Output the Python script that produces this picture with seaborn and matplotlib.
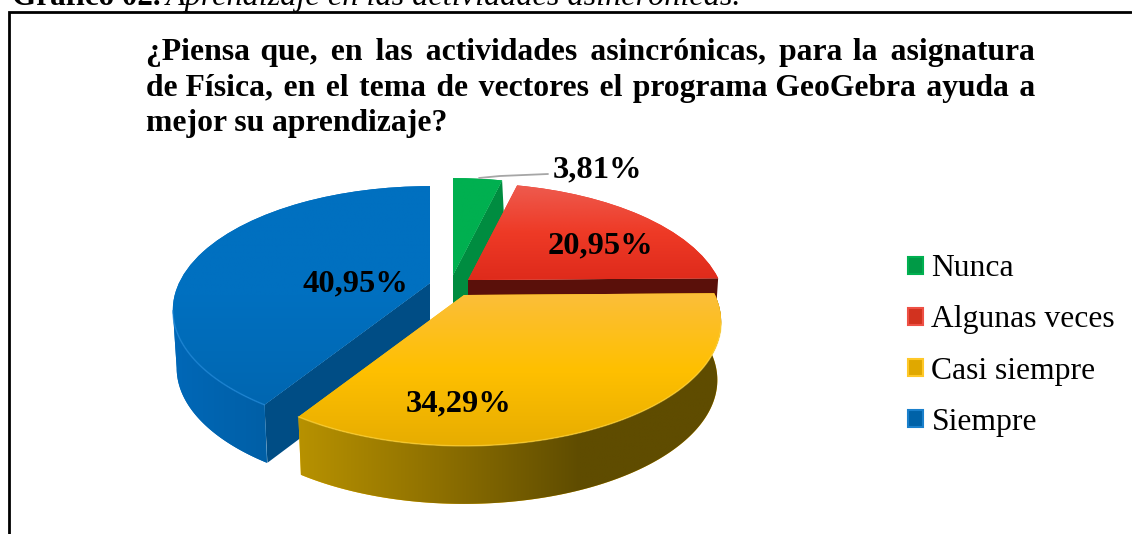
import numpy as np
import matplotlib
matplotlib.use("Agg")
import matplotlib.pyplot as plt
from matplotlib.colors import LinearSegmentedColormap
from matplotlib.patches import Patch, Polygon
from matplotlib.transforms import Transform
import seaborn as sns

# ---- data ----
categories = ["Nunca", "Algunas veces", "Casi siempre", "Siempre"]
percentages = [3.81, 20.95, 34.29, 40.95]
title_lines = ["¿Piensa que, en las actividades asincrónicas, para la asignatura",
               "de Física, en el tema de vectores el programa GeoGebra ayuda a",
               "mejor su aprendizaje?"]
header_bold = "Gráfico 02."
header_italic = "Aprendizaje en las actividades asincrónicas."

# ---- style ----
SERIF = "Liberation Serif"
sns.set_theme(style="white")
plt.rcParams["font.family"] = [SERIF, "DejaVu Sans"]
base = sns.color_palette(["#00B050", "#EE3524", "#FFC000", "#0070C0"])
W, H = 1132, 534
A, B, K, DEPTH = 251.0, 118.0, 0.218, 58.0
apexes = [(453, 275), (468, 280), (464, 295), (430, 283)]
top_grad = [["#00B050", "#00B050"],
            ["#EE5C50", "#EE3A26", "#DE2A1B"],
            ["#FBBE3C", "#FFC000", "#E6AC00"],
            ["#0070C0", "#0070C0", "#0066B0"]]
rim_grad = [None, None, ["#B89200", "#8E7000", "#5F4C00", "#5F4C00"], ["#0068B8", "#005FA6"]]
face_col = ["#008C40", "#5A100A", None, "#004D85"]
face_drop = [DEPTH, 30.0, 0.0, DEPTH]
face_shift = [3.0, -2.0, 0.0, 3.0]
bevel_col = [None, None, "#FFD84A", "#2A90E0"]
legend_face = ["#009A46", "#D2321F", "#E0A800", "#0062A8"]
legend_edge = ["#00B050", "#EE5045", "#FFC828", "#1A80CC"]


class Persp(Transform):
    """Projects the unit-circle pie plane into the tilted view around an apex."""
    input_dims = output_dims = 2
    is_separable = False
    has_inverse = False

    def __init__(self, apex):
        super().__init__()
        self.apex = apex

    def transform_non_affine(self, xy):
        xy = np.asarray(xy, float)
        w = 1 + K * xy[:, 1]
        return np.column_stack([self.apex[0] + A * xy[:, 0] / w,
                                self.apex[1] - B * xy[:, 1] / w])


def rim_xy(apex, deg):
    t = np.radians(deg)
    return Persp(apex).transform_non_affine(np.column_stack([np.cos(t), np.sin(t)]))


fig = plt.figure(figsize=(W / 100, H / 100), dpi=100, facecolor="white")
ax = fig.add_axes([0, 0, 1, 1])
wedges, _ = ax.pie(percentages, colors=base, startangle=90, counterclock=False, radius=1)
ax.set_aspect("auto")


def gradient(cols, extent, clip, z, horizontal=False):
    cm = LinearSegmentedColormap.from_list("g", cols)
    arr = np.linspace(0, 1, 256).reshape(1, -1) if horizontal else np.linspace(0, 1, 256).reshape(-1, 1)
    im = ax.imshow(arr, cmap=cm, extent=extent, aspect="auto", origin="upper",
                   interpolation="bilinear", zorder=z)
    im.set_clip_path(clip)


# back-to-front slice order: green, red, blue, gold
for order, i in enumerate([0, 1, 3, 2]):
    wd, apex = wedges[i], apexes[i]
    z = 2 + order * 4
    # cut face under the slice edge
    if face_col[i] is not None:
        ang = wd.theta2 if i == 3 else wd.theta1
        p = rim_xy(apex, np.array([ang]))[0]
        face = Polygon([apex, p, (p[0] + face_shift[i], p[1] + face_drop[i]), (apex[0], apex[1] + face_drop[i])],
                       closed=True, fc=face_col[i], ec="none", zorder=z)
        ax.add_patch(face)
    # outer rim, from the silhouette point round to the slice end
    if rim_grad[i] is not None:
        lo, hi = wd.theta1, wd.theta2
        if i == 3:
            deg = np.linspace(hi, -167.4, 160)
        else:
            deg = np.linspace(lo, hi, 160)
        top = rim_xy(apex, deg)
        bottom = top.copy()
        bottom[:, 0] = apex[0] + (top[:, 0] - apex[0]) * 0.985
        bottom[:, 1] += DEPTH
        rim = Polygon(np.vstack([top, bottom[::-1]]), closed=True, fc=base[i], ec="none", zorder=z + 1)
        ax.add_patch(rim)
        ext = (top[:, 0].min() - 2, top[:, 0].max() + 2, bottom[:, 1].max() + 2, top[:, 1].min() - 2)
        gradient(rim_grad[i], ext, rim, z + 1, horizontal=True)
    # top surface
    wd.set_transform(Persp(apex) + ax.transData)
    wd.set_edgecolor("none")
    wd.set_zorder(z + 2)
    deg = np.linspace(wd.theta1, wd.theta2, 160)
    top = rim_xy(apex, deg)
    ys = np.append(top[:, 1], apex[1])
    xs = np.append(top[:, 0], apex[0])
    gradient(top_grad[i], (xs.min() - 2, xs.max() + 2, ys.max() + 2, ys.min() - 2), wd, z + 2)
    if bevel_col[i] is not None:
        front = deg[np.sin(np.radians(deg)) < -0.22]
        if len(front):
            r = rim_xy(apex, front)
            ax.plot(r[:, 0], r[:, 1], color=bevel_col[i], lw=1.1, alpha=0.55, zorder=z + 3,
                    solid_capstyle="round")

# data labels, leader line
label_pos = [(597, 177), (600, 253), (459, 411), (355, 291)]
ax.plot([479, 500, 548], [178, 176, 174], color="#A6A6A6", lw=1.3, zorder=30)
for val, (x, y) in zip(percentages, label_pos):
    ax.text(x, y, f"{val:.2f}%".replace(".", ","), ha="center", va="baseline",
            fontsize=23.4, fontweight="bold", color="black", zorder=31)

# justified title: widen the word gaps with hair spaces, keep one text per line
HAIR = "\u200a"
renderer = fig.canvas.get_renderer()


def text_w(s, **kw):
    t = ax.text(0, 0, s, **kw)
    w = t.get_window_extent(renderer).width
    t.remove()
    return w


tkw = dict(fontsize=22.8, fontweight="bold", color="black")
hair_w = text_w("a" + HAIR + "a", **tkw) - text_w("aa", **tkw)
TITLE_X0, TITLE_X1 = 146, 1037
for line, y, just in zip(title_lines, [60, 96, 131], [True, True, False]):
    s = line
    if just and hair_w > 0:
        words = line.split(" ")
        extra = max(TITLE_X1 - TITLE_X0 - text_w(line, **tkw), 0)
        per_gap = extra / (len(words) - 1) / hair_w
        s, acc = words[0], 0.0
        for wrd in words[1:]:
            acc += per_gap
            n = int(acc)
            acc -= n
            s += " " + HAIR * n + wrd
    ax.text(TITLE_X0, y, s, ha="left", va="baseline", zorder=31, **tkw)

# header, cut off by the top edge as in the source
ax.text(12, 5, header_bold, ha="left", va="baseline", fontsize=22.4, fontweight="bold", color="black")
ax.text(166, 5, header_italic, ha="left", va="baseline", fontsize=23.2, fontstyle="italic", color="black")

# frame: top and left only reach the picture edges
ax.plot([8.5, 8.5, 1131], [534, 11.5, 11.5], color="black", lw=2.0, solid_joinstyle="miter", zorder=32)

# legend
handles = [Patch(facecolor=f, edgecolor=e, linewidth=1.5) for f, e in zip(legend_face, legend_edge)]
ax.legend(handles, categories, loc="upper left", bbox_to_anchor=(902 / W, 1 - 248 / H),
          frameon=False, fontsize=22.8, handlelength=0.45, handleheight=0.45, labelcolor="black",
          handletextpad=0.28, labelspacing=0.70, borderpad=0.2, borderaxespad=0)

ax.set_xlim(0, W)
ax.set_ylim(H, 0)
ax.axis("off")
fig.savefig("out.png", dpi=100, facecolor="white")
